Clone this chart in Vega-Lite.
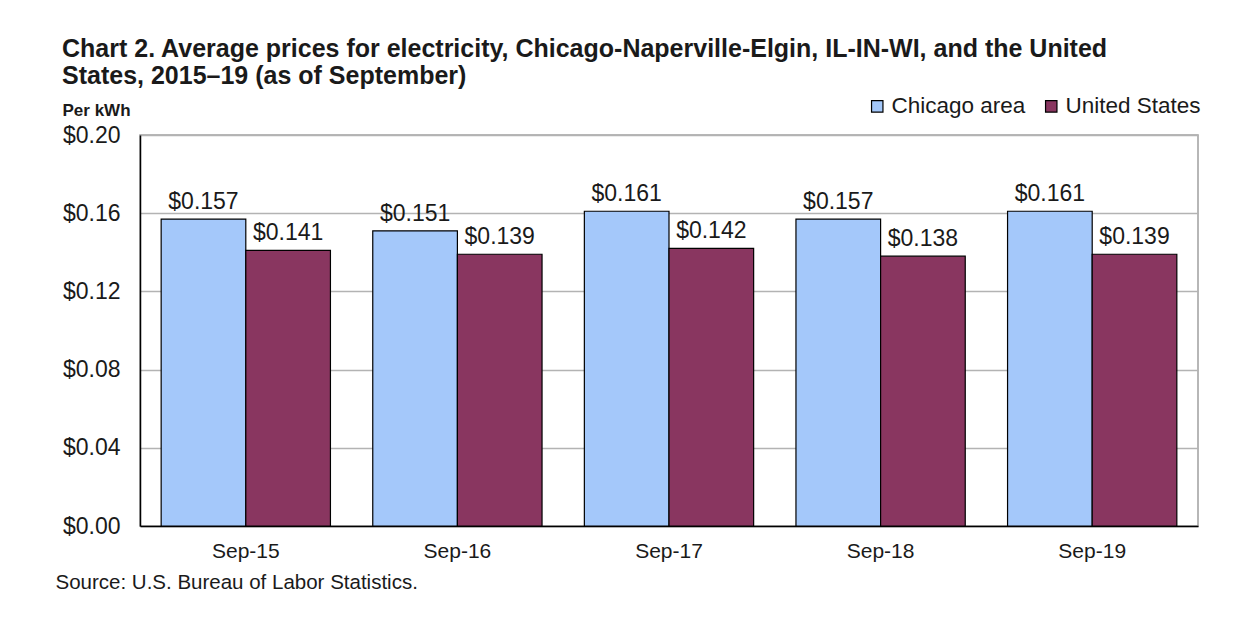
{
  "$schema": "https://vega.github.io/schema/vega-lite/v6.json",
  "width": 1058,
  "height": 391,
  "autosize": {"type": "none"},
  "padding": {"left": 140, "top": 135, "right": 44, "bottom": 94},
  "background": "white",
  "title": {
    "text": ["Chart 2. Average prices for electricity, Chicago-Naperville-Elgin, IL-IN-WI, and the United", "States, 2015–19  (as of September)"],
    "anchor": "start",
    "frame": "group",
    "dx": -78,
    "offset": 6,
    "font": "Liberation Sans",
    "fontSize": 25,
    "fontWeight": "bold",
    "color": "#1a1a1a",
    "lineHeight": 27
  },
  "data": {
    "values": [
      {"month": "Sep-15", "series": "Chicago area", "price": 0.157},
      {"month": "Sep-15", "series": "United States", "price": 0.141},
      {"month": "Sep-16", "series": "Chicago area", "price": 0.151},
      {"month": "Sep-16", "series": "United States", "price": 0.139},
      {"month": "Sep-17", "series": "Chicago area", "price": 0.161},
      {"month": "Sep-17", "series": "United States", "price": 0.142},
      {"month": "Sep-18", "series": "Chicago area", "price": 0.157},
      {"month": "Sep-18", "series": "United States", "price": 0.138},
      {"month": "Sep-19", "series": "Chicago area", "price": 0.161},
      {"month": "Sep-19", "series": "United States", "price": 0.139}
    ]
  },
  "encoding": {
    "x": {
      "field": "month", "type": "nominal", "sort": null,
      "scale": {"paddingInner": 0.2, "paddingOuter": 0.1},
      "axis": {
        "title": "Source: U.S. Bureau of Labor Statistics.",
        "titleAnchor": "start", "titleAlign": "left", "titleX": -85, "titleY": 66,
        "titleBaseline": "bottom",
        "titleFont": "Liberation Sans", "titleFontSize": 20.5, "titleFontWeight": "normal", "titleColor": "#1a1a1a",
        "labelAngle": 0, "labelFont": "Liberation Sans", "labelFontSize": 21, "labelColor": "#1a1a1a",
        "labelPadding": 14, "ticks": false, "domainColor": "#000", "domainWidth": 1.5
      }
    },
    "xOffset": {"field": "series", "type": "nominal"},
    "y": {
      "field": "price", "type": "quantitative",
      "scale": {"domain": [0, 0.2], "nice": false},
      "axis": {
        "values": [0, 0.04, 0.08, 0.12, 0.16, 0.2],
        "format": "$.2f",
        "title": "Per kWh", "titleAngle": 0, "titleAlign": "left", "titleX": -78, "titleY": -20,
        "titleBaseline": "alphabetic",
        "titleFont": "Liberation Sans", "titleFontSize": 17, "titleFontWeight": "bold", "titleColor": "#1a1a1a",
        "labelFont": "Liberation Sans", "labelFontSize": 23, "labelColor": "#1a1a1a", "labelPadding": 20,
        "ticks": false, "grid": true, "gridColor": "#b3b3b3", "gridWidth": 1.5,
        "domainColor": "#000", "domainWidth": 1.5
      }
    }
  },
  "layer": [
    {
      "mark": {"type": "bar", "stroke": "#000", "strokeWidth": 1.2},
      "encoding": {
        "color": {
          "field": "series", "type": "nominal",
          "scale": {"domain": ["Chicago area", "United States"], "range": ["#A4C8FA", "#893660"]},
          "legend": {
            "title": null, "orient": "none", "direction": "horizontal",
            "legendX": 726, "legendY": -40,
            "symbolType": "square", "symbolSize": 130, "symbolStrokeColor": "#000", "symbolStrokeWidth": 1.2,
            "symbolOpacity": 1,
            "labelFont": "Liberation Sans", "labelFontSize": 22.5, "labelColor": "#1a1a1a",
            "labelOffset": 3, "columnPadding": 14
          }
        }
      }
    },
    {
      "mark": {"type": "text", "baseline": "bottom", "dy": -5, "font": "Liberation Sans", "fontSize": 23, "color": "#1a1a1a"},
      "encoding": {
        "text": {"field": "price", "type": "quantitative", "format": "$.3f"}
      }
    }
  ],
  "config": {
    "view": {"stroke": "#a0a0a0", "strokeWidth": 1.5}
  }
}
